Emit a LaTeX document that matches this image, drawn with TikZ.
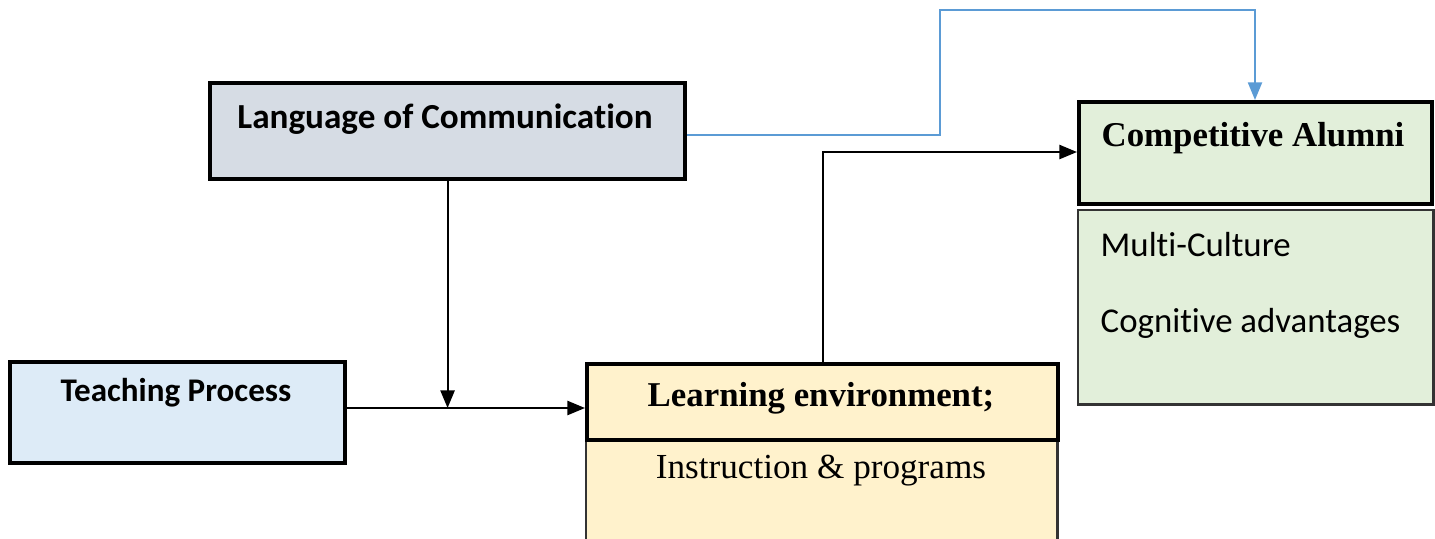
\documentclass[tikz,border=0pt]{standalone}
\usepackage{fontspec}
\setmainfont{Liberation Serif}
\newfontfamily\calib[Ligatures={NoCommon}]{Carlito}
\usetikzlibrary{arrows.meta}
\definecolor{langfill}{HTML}{D6DCE4}
\definecolor{teachfill}{HTML}{DDEBF7}
\definecolor{learnfill}{HTML}{FFF2CC}
\definecolor{alumfill}{HTML}{E2EFDA}
\definecolor{linkblue}{HTML}{5B9BD5}
\tikzset{
  box/.style={draw=black, line width=1.1pt, anchor=north west, inner sep=0pt},
  subbox/.style={draw=black!80, line width=0.7pt, anchor=north west, inner sep=0pt},
  flow/.style={draw=black, line width=0.6pt, -{Triangle[length=5pt,width=4pt]}},
  bluelink/.style={draw=linkblue, line width=0.5pt, -{Triangle[length=5pt,width=4pt]}},
  sanslabel/.style={font=\calib\bfseries\fontsize{10}{12}\selectfont, inner sep=0pt},
  seriflabel/.style={font=\bfseries\fontsize{9.9}{12}\selectfont, inner sep=0pt},
  plainserif/.style={font=\fontsize{10}{12}\selectfont, inner sep=0pt},
  plainsans/.style={font=\calib\fontsize{9.9}{12}\selectfont, inner sep=0pt, anchor=west},
}
\begin{document}
\begin{tikzpicture}[x=0.01cm, y=-0.01cm]
  \useasboundingbox (0,0) rectangle (1435,538);

  % boxes
  \node[box, fill=langfill, minimum width=4.75cm, minimum height=0.96cm] (lang) at (208,81) {};
  \node[box, fill=teachfill, minimum width=3.35cm, minimum height=1.01cm] (teach) at (8,360) {};
  \node[subbox, fill=learnfill, minimum width=4.71cm, minimum height=1.05cm] (learnB) at (585,436) {};
  \node[box, fill=learnfill, minimum width=4.71cm, minimum height=0.76cm] (learn) at (585,362) {};
  \node[box, fill=alumfill, minimum width=3.53cm, minimum height=1.02cm] (alum) at (1077,100) {};
  \node[subbox, fill=alumfill, minimum width=3.55cm, minimum height=1.94cm] (alumB) at (1077,209) {};

  % texts
  \node[sanslabel] (langT) at (445,119) {Language of Communication};
  \node[sanslabel, font=\calib\bfseries\fontsize{9.4}{11}\selectfont] (teachT) at (176,393) {Teaching Process};
  \node[seriflabel] (learnT) at (821,398) {Learning environment;};
  \node[plainserif] (learnBT) at (821,471) {Instruction \& programs};
  \node[seriflabel] (alumT) at (1253,138) {Competitive Alumni};
  \node[plainsans] (mc) at (1100,245) {Multi-Culture};
  \node[plainsans] (cog) at (1100,323) {Cognitive advantages};

  % connectors
  \coordinate (join) at (lang.south |- 0,408);
  \draw[flow] (lang.south) -- (join);
  \draw[flow] (teach.east |- join) -- (learn.west |- join);
  \draw[flow] (learn.north) -- (learn.north |- 0,152) -- (alum.west |- 0,152);
  \draw[bluelink] (lang.east |- 0,135) -- (940,135) -- (940,10) -- (1255,10) -- (alum.north -| 1255,0);
\end{tikzpicture}
\end{document}
